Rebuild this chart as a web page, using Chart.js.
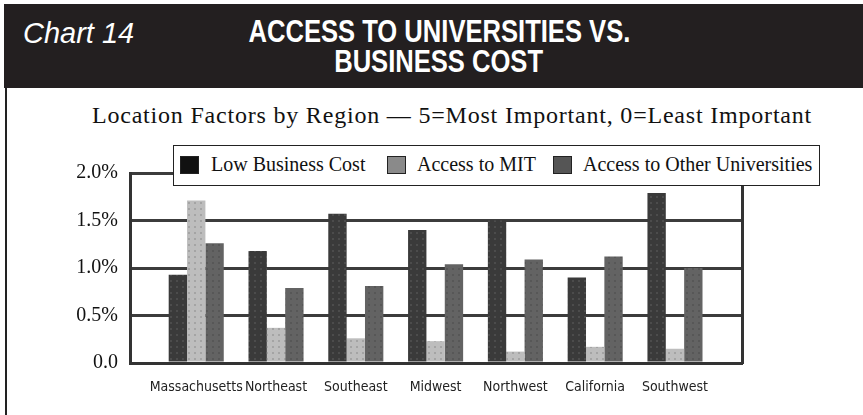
<!DOCTYPE html>
<html>
<head>
<meta charset="utf-8">
<script src="https://cdn.jsdelivr.net/npm/chart.js@4"></script>
<style>
  html, body { margin: 0; padding: 0; background: #fff; }
  #page { position: relative; width: 863px; height: 415px; overflow: hidden; }
  #header { position: absolute; left: 4px; top: 4px; width: 859px; height: 84px; background: #231f20; color: #fff; }
  #chartno { position: absolute; left: 19px; top: 13px; font: italic 29px "Liberation Sans", Arial, sans-serif; }
  #title { position: absolute; left: 135px; width: 600px; top: 13px; text-align: center;
           font: bold 31px/30px "Liberation Sans", Arial, sans-serif; }
  #title span { display: inline-block; transform: scaleX(0.825); white-space: nowrap; }
  #edge { position: absolute; left: 5px; top: 88px; width: 2px; height: 327px; background: #222; }
  #subtitle { position: absolute; left: 0; width: 904px; top: 102px; text-align: center; letter-spacing: 0.8px;
              font: 24px "Liberation Serif", "Times New Roman", serif; color: #111; }
  #wrap { position: absolute; left: 0; top: 140px; width: 863px; height: 275px; }
  #legend { position: absolute; left: 173px; top: 145px; width: 645px; height: 39px; background: #fff;
            border: 1.5px solid #222; font: 20px "Liberation Serif", "Times New Roman", serif; color: #111; }
  #legend .sw { position: absolute; top: 10px; width: 19px; height: 18px; border: 1px solid #222; box-sizing: border-box; }
  #legend .tx { position: absolute; top: 7px; white-space: nowrap; }
</style>
</head>
<body>
<div id="page">
  <div id="header">
    <div id="chartno">Chart 14</div>
    <div id="title"><span>ACCESS TO UNIVERSITIES VS.</span><br><span>BUSINESS COST</span></div>
  </div>
  <div id="edge"></div>
  <div id="subtitle">Location Factors by Region — 5=Most Important, 0=Least Important</div>
  <div id="wrap"><canvas id="chart"></canvas></div>
  <div id="legend"></div>
</div>
<script>
// Region categories and the three location-factor series.
const regions = ["Massachusetts", "Northeast", "Southeast", "Midwest", "Northwest", "California", "Southwest"];
const lowBusinessCost = [0.93, 1.18, 1.57, 1.40, 1.50, 0.90, 1.79];
const accessToMIT     = [1.71, 0.37, 0.26, 0.23, 0.12, 0.17, 0.15];
const accessToOther   = [1.26, 0.79, 0.81, 1.04, 1.09, 1.12, 1.00];
const yTicks = [0, 0.5, 1.0, 1.5, 2.0];

const seriesNames  = ["Low Business Cost", "Access to MIT", "Access to Other Universities"];
const legendColors = ["#111", "#8a8a8a", "#555"];

// Dotted halftone-looking fill, like the scanned original.
function dotted(base, dot) {
  const c = document.createElement("canvas");
  c.width = 6; c.height = 6;
  const g = c.getContext("2d");
  g.fillStyle = base; g.fillRect(0, 0, 6, 6);
  g.fillStyle = dot; g.fillRect(2, 2, 2, 2);
  return g.createPattern(c, "repeat");
}

// HTML legend in a bordered box over the plot top.
const legend = document.getElementById("legend");
const swX = [6, 213, 379], txX = [37, 243, 409];
seriesNames.forEach((n, i) => {
  legend.insertAdjacentHTML("beforeend",
    `<div class="sw" style="left:${swX[i]}px;background:${legendColors[i]}"></div>` +
    `<div class="tx" style="left:${txX[i]}px">${n}</div>`);
});

const toPoints = arr => arr.map((v, i) => ({ x: i, y: v }));

new Chart(document.getElementById("chart"), {
  type: "bar",
  data: {
    datasets: [
      { label: seriesNames[0], data: toPoints(lowBusinessCost), backgroundColor: dotted("#3a3a3a", "#4c4c4c") },
      { label: seriesNames[1], data: toPoints(accessToMIT),     backgroundColor: dotted("#bdbdbd", "#a4a4a4") },
      { label: seriesNames[2], data: toPoints(accessToOther),   backgroundColor: dotted("#636363", "#575757") },
    ]
  },
  options: {
    responsive: true, maintainAspectRatio: false, animation: false,
    layout: { padding: { top: 33, bottom: 0, left: 0, right: 0 } },
    categoryPercentage: 0.69, barPercentage: 1.0,
    plugins: { legend: { display: false }, tooltip: { enabled: false } },
    scales: {
      x: {
        type: "linear", min: -0.83, max: 6.84, offset: false,
        afterBuildTicks: s => { s.ticks = regions.map((_, i) => ({ value: i })); },
        afterFit: s => { s.height = 52; },
        grid: { display: false },
        border: { color: "#333", width: 3 },
        ticks: { padding: 8, color: "#222", autoSkip: false, maxRotation: 0,
                 font: { family: "'DejaVu Sans Condensed', 'Liberation Sans Narrow', 'Liberation Sans', sans-serif", size: 14 },
                 callback: v => regions[v] }
      },
      y: {
        min: 0, max: 2.0,
        afterBuildTicks: s => { s.ticks = yTicks.map(v => ({ value: v })); },
        afterFit: s => { s.width = 130; },
        grid: { color: "#3c3c3c", lineWidth: 3, drawTicks: false },
        border: { color: "#333", width: 3 },
        ticks: { padding: 12, color: "#111",
                 font: { family: "'Liberation Serif', 'Times New Roman', serif", size: 20 },
                 callback: v => v === 0 ? "0.0" : v.toFixed(1) + "%" }
      },
      yRight: {
        position: "right", min: 0, max: 2.0,
        afterFit: s => { s.width = 121; },
        grid: { drawOnChartArea: false, drawTicks: false },
        border: { color: "#333", width: 3 },
        ticks: { display: false }
      }
    }
  }
});
</script>
</body>
</html>
